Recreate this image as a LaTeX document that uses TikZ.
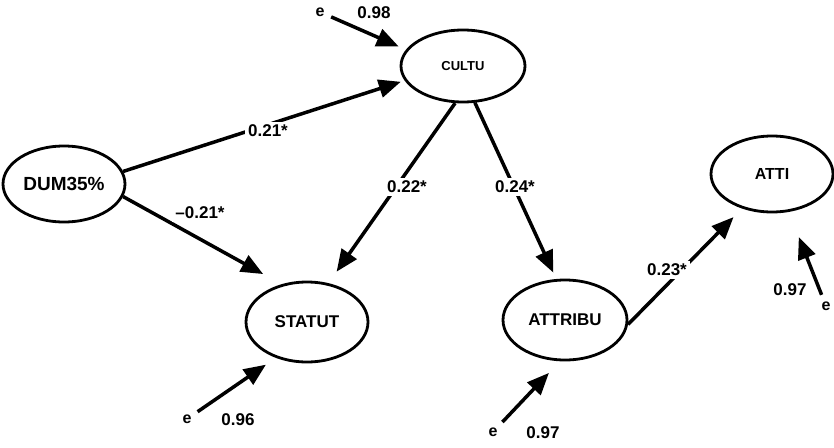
\documentclass[tikz,border=0pt]{standalone}
\usepackage{fontspec}
\setmainfont{Liberation Sans}
\usetikzlibrary{shapes.geometric,arrows.meta}
\begin{document}
\begin{tikzpicture}[x=1pt,y=-1pt,
  var/.style={ellipse, draw, line width=2.8pt, inner sep=0pt},
  arr/.style={line width=3.5pt, -{Triangle[length=22pt,width=18pt]}},
  coef/.style={fill=white, inner sep=3pt, font=\bfseries\fontsize{17}{17}\selectfont},
  errterm/.style={inner sep=1pt, font=\bfseries\fontsize{16}{16}\selectfont},
]
\useasboundingbox (0,0) rectangle (834,447);

% latent variables
\node[var, minimum width=122pt, minimum height=76pt,
      font=\bfseries\fontsize{19}{19}\selectfont] (dum) at (64,184) {DUM35\%};
\node[var, minimum width=124pt, minimum height=72pt,
      font=\bfseries\fontsize{13}{13}\selectfont] (cultu) at (463,66) {CULTU};
\node[var, minimum width=122pt, minimum height=80pt,
      font=\bfseries\fontsize{17}{17}\selectfont] (statut) at (307,322) {STATUT};
\node[var, minimum width=124pt, minimum height=80pt,
      font=\bfseries\fontsize{17}{17}\selectfont] (attribu) at (565,320) {ATTRIBU};
\node[var, minimum width=122pt, minimum height=76pt,
      font=\bfseries\fontsize{16}{16}\selectfont] (atti) at (772,174) {ATTI};

% error terms
\node[errterm] (e1) at (320,12) {e};
\node[errterm] (e2) at (187,419) {e};
\node[errterm] (e3) at (493,432) {e};
\node[errterm] (e4) at (826,306) {e};

% structural paths
\draw[arr, shorten >=4pt] (dum.12) -- (cultu.194);
\draw[arr, shorten >=21pt] (dum.-12) -- (statut.124);
\draw[arr, shorten >=14pt] (cultu.-102) -- (statut.61);
\draw[arr, shorten >=7pt] (cultu.-72) -- (attribu.102);
\draw[arr, shorten >=12pt] (attribu.-4) -- (atti.-131);

% residual paths
\draw[arr, shorten <=6pt, shorten >=8pt] (e1) -- (cultu.164);
\draw[arr, shorten <=6pt, shorten >=12pt] (e2) -- (statut.-131);
\draw[arr, shorten <=6pt, shorten >=16pt] (e3) -- (attribu.-97);
\draw[arr, shorten <=6pt, shorten >=27pt] (e4) -- (atti.-66);

% path coefficients
\node[coef] at (268,131) {0.21*};
\node[coef] at (200,213) {--0.21*};
\node[coef] at (407,187) {0.22*};
\node[coef] at (515,187) {0.24*};
\node[coef] at (667,270) {0.23*};
\node[coef, fill=none] at (374,13) {0.98};
\node[coef, fill=none] at (238,420) {0.96};
\node[coef, fill=none] at (543,433) {0.97};
\node[coef, fill=none] at (790,290) {0.97};
\end{tikzpicture}
\end{document}
